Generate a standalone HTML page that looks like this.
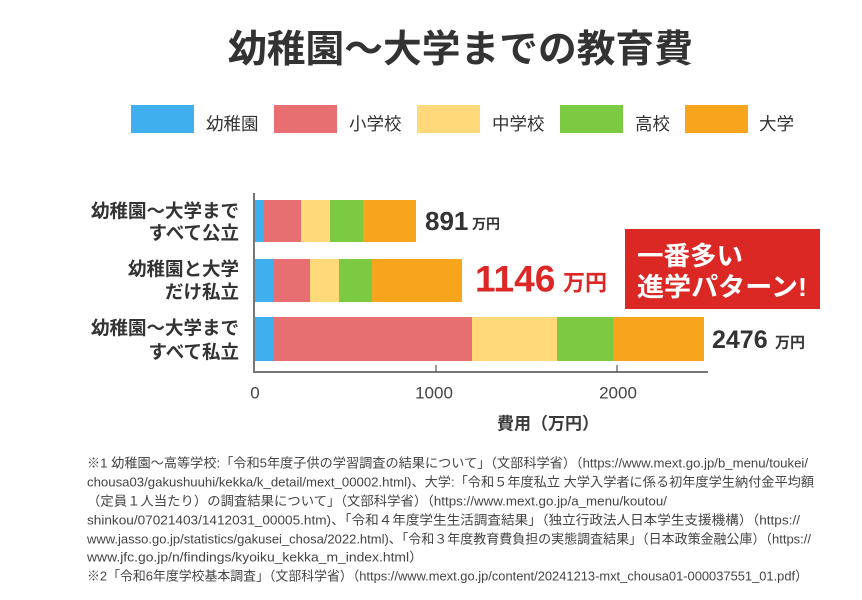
<!DOCTYPE html>
<html lang="ja">
<head>
<meta charset="utf-8">
<style>
  html, body { margin: 0; padding: 0; background: #ffffff; }
  svg { display: block; }
  .jp { font-family: "Liberation Sans", "Noto Sans CJK JP", sans-serif; }
</style>
</head>
<body>
<svg width="862" height="600" viewBox="0 0 862 600" xmlns="http://www.w3.org/2000/svg" class="jp">
  <rect x="0" y="0" width="862" height="600" fill="#ffffff"/>

  <!-- Title -->
  <text x="228" y="50" dominant-baseline="central" font-size="38" font-weight="bold" fill="#333333" textLength="465" lengthAdjust="spacingAndGlyphs">幼稚園〜大学までの教育費</text>

  <!-- Legend -->
  <rect x="131" y="105" width="63" height="28" fill="#3fb0ed"/>
  <text x="206" y="124" dominant-baseline="central" font-size="17.5" fill="#333333">幼稚園</text>
  <rect x="274" y="105" width="63" height="28" fill="#e76f72"/>
  <text x="349" y="124" dominant-baseline="central" font-size="17.5" fill="#333333">小学校</text>
  <rect x="417" y="105" width="63" height="28" fill="#ffd97a"/>
  <text x="492" y="124" dominant-baseline="central" font-size="17.5" fill="#333333">中学校</text>
  <rect x="560" y="105" width="63" height="28" fill="#7cc942"/>
  <text x="635" y="124" dominant-baseline="central" font-size="17.5" fill="#333333">高校</text>
  <rect x="685" y="105" width="63" height="28" fill="#f7a51d"/>
  <text x="759" y="124" dominant-baseline="central" font-size="17.5" fill="#333333">大学</text>

  <!-- Bar 1: all public -->
  <rect x="254" y="200" width="10" height="42" fill="#3fb0ed"/>
  <rect x="264" y="200" width="37" height="42" fill="#e76f72"/>
  <rect x="301" y="200" width="29" height="42" fill="#ffd97a"/>
  <rect x="330" y="200" width="33" height="42" fill="#7cc942"/>
  <rect x="363" y="200" width="53" height="42" fill="#f7a51d"/>

  <!-- Bar 2 -->
  <rect x="254" y="259" width="19" height="43" fill="#3fb0ed"/>
  <rect x="273" y="259" width="37" height="43" fill="#e76f72"/>
  <rect x="310" y="259" width="29" height="43" fill="#ffd97a"/>
  <rect x="339" y="259" width="33" height="43" fill="#7cc942"/>
  <rect x="372" y="259" width="90" height="43" fill="#f7a51d"/>

  <!-- Bar 3: all private -->
  <rect x="254" y="317" width="19" height="44" fill="#3fb0ed"/>
  <rect x="273" y="317" width="199" height="44" fill="#e76f72"/>
  <rect x="472" y="317" width="85" height="44" fill="#ffd97a"/>
  <rect x="557" y="317" width="56" height="44" fill="#7cc942"/>
  <rect x="613" y="317" width="91" height="44" fill="#f7a51d"/>

  <!-- Axes -->
  <line x1="254" y1="193" x2="254" y2="373" stroke="#777777" stroke-width="2"/>
  <line x1="253" y1="372" x2="708" y2="372" stroke="#777777" stroke-width="2"/>
  <line x1="436" y1="365" x2="436" y2="372" stroke="#555555" stroke-width="1.2"/>
  <line x1="617" y1="365" x2="617" y2="372" stroke="#555555" stroke-width="1.2"/>

  <!-- Tick labels -->
  <text x="255" y="393" text-anchor="middle" dominant-baseline="central" font-size="17" fill="#444444">0</text>
  <text x="434" y="393" text-anchor="middle" dominant-baseline="central" font-size="17" fill="#444444">1000</text>
  <text x="618" y="393" text-anchor="middle" dominant-baseline="central" font-size="17" fill="#444444">2000</text>

  <!-- X axis title -->
  <text x="548" y="424" text-anchor="middle" dominant-baseline="central" font-size="17" font-weight="bold" fill="#3a3a3a">費用（万円）</text>

  <!-- Y labels -->
  <g font-size="18.5" font-weight="bold" fill="#333333" text-anchor="end">
    <text x="239" y="211" dominant-baseline="central">幼稚園〜大学まで</text>
    <text x="239" y="233" dominant-baseline="central">すべて公立</text>
    <text x="239" y="269" dominant-baseline="central">幼稚園と大学</text>
    <text x="239" y="292" dominant-baseline="central">だけ私立</text>
    <text x="239" y="328" dominant-baseline="central">幼稚園〜大学まで</text>
    <text x="239" y="352" dominant-baseline="central">すべて私立</text>
  </g>

  <!-- Value labels -->
  <text x="425" y="221" dominant-baseline="central" font-size="26" font-weight="bold" fill="#333333">891</text>
  <text x="472" y="224" dominant-baseline="central" font-size="14" font-weight="bold" fill="#333333">万円</text>

  <text x="475" y="279" dominant-baseline="central" font-size="37" font-weight="bold" fill="#dd2727">1146</text>
  <text x="563" y="283" dominant-baseline="central" font-size="22" font-weight="bold" fill="#dd2727">万円</text>

  <text x="712" y="340" dominant-baseline="central" font-size="25" font-weight="bold" fill="#333333">2476</text>
  <text x="775" y="343" dominant-baseline="central" font-size="15" font-weight="bold" fill="#333333">万円</text>

  <!-- Callout box -->
  <rect x="625" y="229" width="195" height="80" fill="#dc2825"/>
  <text x="637" y="256" dominant-baseline="central" font-size="26" font-weight="bold" fill="#ffffff" textLength="106" lengthAdjust="spacingAndGlyphs">一番多い</text>
  <text x="637" y="287" dominant-baseline="central" font-size="26" font-weight="bold" fill="#ffffff" textLength="170" lengthAdjust="spacingAndGlyphs">進学パターン!</text>

  <!-- Footnotes -->
  <g font-size="13" fill="#444444">
    <text x="87" y="463" dominant-baseline="central" textLength="721" lengthAdjust="spacingAndGlyphs">※1 幼稚園〜高等学校:「令和5年度子供の学習調査の結果について」（文部科学省）（https://www.mext.go.jp/b_menu/toukei/</text>
    <text x="87" y="482" dominant-baseline="central" textLength="727" lengthAdjust="spacingAndGlyphs">chousa03/gakushuuhi/kekka/k_detail/mext_00002.html)、大学:「令和５年度私立 大学入学者に係る初年度学生納付金平均額</text>
    <text x="87" y="501" dominant-baseline="central" textLength="580" lengthAdjust="spacingAndGlyphs">（定員１人当たり）の調査結果について」（文部科学省）（https://www.mext.go.jp/a_menu/koutou/</text>
    <text x="87" y="520" dominant-baseline="central" textLength="713" lengthAdjust="spacingAndGlyphs">shinkou/07021403/1412031_00005.htm)、「令和４年度学生生活調査結果」（独立行政法人日本学生支援機構）（https://</text>
    <text x="87" y="539" dominant-baseline="central" textLength="724" lengthAdjust="spacingAndGlyphs">www.jasso.go.jp/statistics/gakusei_chosa/2022.html)、「令和３年度教育費負担の実態調査結果」（日本政策金融公庫）（https://</text>
    <text x="87" y="557" dominant-baseline="central" textLength="336" lengthAdjust="spacingAndGlyphs">www.jfc.go.jp/n/findings/kyoiku_kekka_m_index.html）</text>
    <text x="87" y="576" dominant-baseline="central" textLength="721" lengthAdjust="spacingAndGlyphs">※2「令和6年度学校基本調査」（文部科学省）（https://www.mext.go.jp/content/20241213-mxt_chousa01-000037551_01.pdf）</text>
  </g>
</svg>
</body>
</html>
